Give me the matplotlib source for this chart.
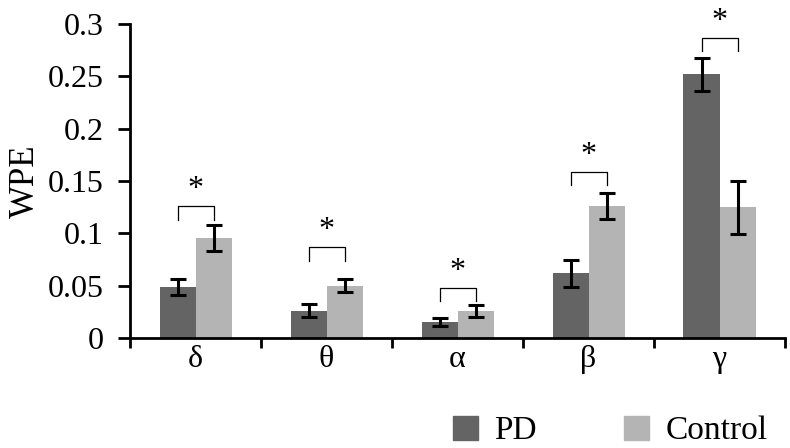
import numpy as np
import matplotlib
matplotlib.use('Agg')
from matplotlib import pyplot as plt
from matplotlib.patches import Patch

#%% data
bands = ['δ', 'θ', 'α', 'β', 'γ']
pd_mean = [0.049, 0.026, 0.015, 0.062, 0.252]
pd_err = [0.0077, 0.0062, 0.0038, 0.0129, 0.0156]
ctrl_mean = [0.096, 0.050, 0.026, 0.126, 0.125]
ctrl_err = [0.0124, 0.0064, 0.0055, 0.0127, 0.0253]
bracket_y = [0.126, 0.087, 0.048, 0.159, 0.287]

#%% plot
plt.rcParams['font.family'] = ['Liberation Serif', 'DejaVu Serif']
plt.rcParams['font.size'] = 23

fig = plt.figure(figsize=(7.9, 4.48), dpi=100)
ax = fig.add_axes([0.1646, 0.2455, 0.8291, 0.7009])

x = np.arange(len(bands)) + 0.5
w = 0.275
ekw = dict(elinewidth=2.2, capthick=2.2, capsize=6, ecolor='black')
ax.bar(x - w/2, pd_mean, w, yerr=pd_err, color='#646464', error_kw=ekw)
ax.bar(x + w/2, ctrl_mean, w, yerr=ctrl_err, color='#b4b4b4', error_kw=ekw)

# significance brackets
for i in range(len(bands)):
    top = bracket_y[i]
    ax.plot([x[i] - w/2, x[i] - w/2, x[i] + w/2, x[i] + w/2],
            [top - 0.013, top, top, top - 0.013], color='black', lw=0.9)
    ax.text(x[i], top + 0.002, '*', ha='center', va='bottom', fontsize=23)

ax.set_xlim(0, len(bands))
ax.set_ylim(0, 0.3)
ax.set_yticks([0, 0.05, 0.1, 0.15, 0.2, 0.25, 0.3])
ax.set_yticklabels(['0', '0.05', '0.1', '0.15', '0.2', '0.25', '0.3'])
ax.set_xticks(np.arange(len(bands) + 1))
ax.set_xticklabels([])
ax.set_xticks(x, minor=True)
ax.set_xticklabels(bands, minor=True)
ax.tick_params(axis='x', which='minor', length=0, pad=5)
ax.tick_params(axis='x', which='major', length=7, width=2)
ax.tick_params(axis='y', length=9, width=2, pad=10)
for s in ['top', 'right']:
    ax.spines[s].set_visible(False)
for s in ['left', 'bottom']:
    ax.spines[s].set_linewidth(2)
ax.set_ylabel('WPE', fontsize=25, labelpad=4)

handles = [Patch(color='#646464'), Patch(color='#b4b4b4')]
fig.legend(handles, ['PD', 'Control'], loc='center', bbox_to_anchor=(0.772, 0.038),
           ncol=2, frameon=False, handlelength=0.75, handleheight=0.75,
           columnspacing=2.6, handletextpad=0.5, fontsize=24)

fig.savefig('out.png', dpi=100)
